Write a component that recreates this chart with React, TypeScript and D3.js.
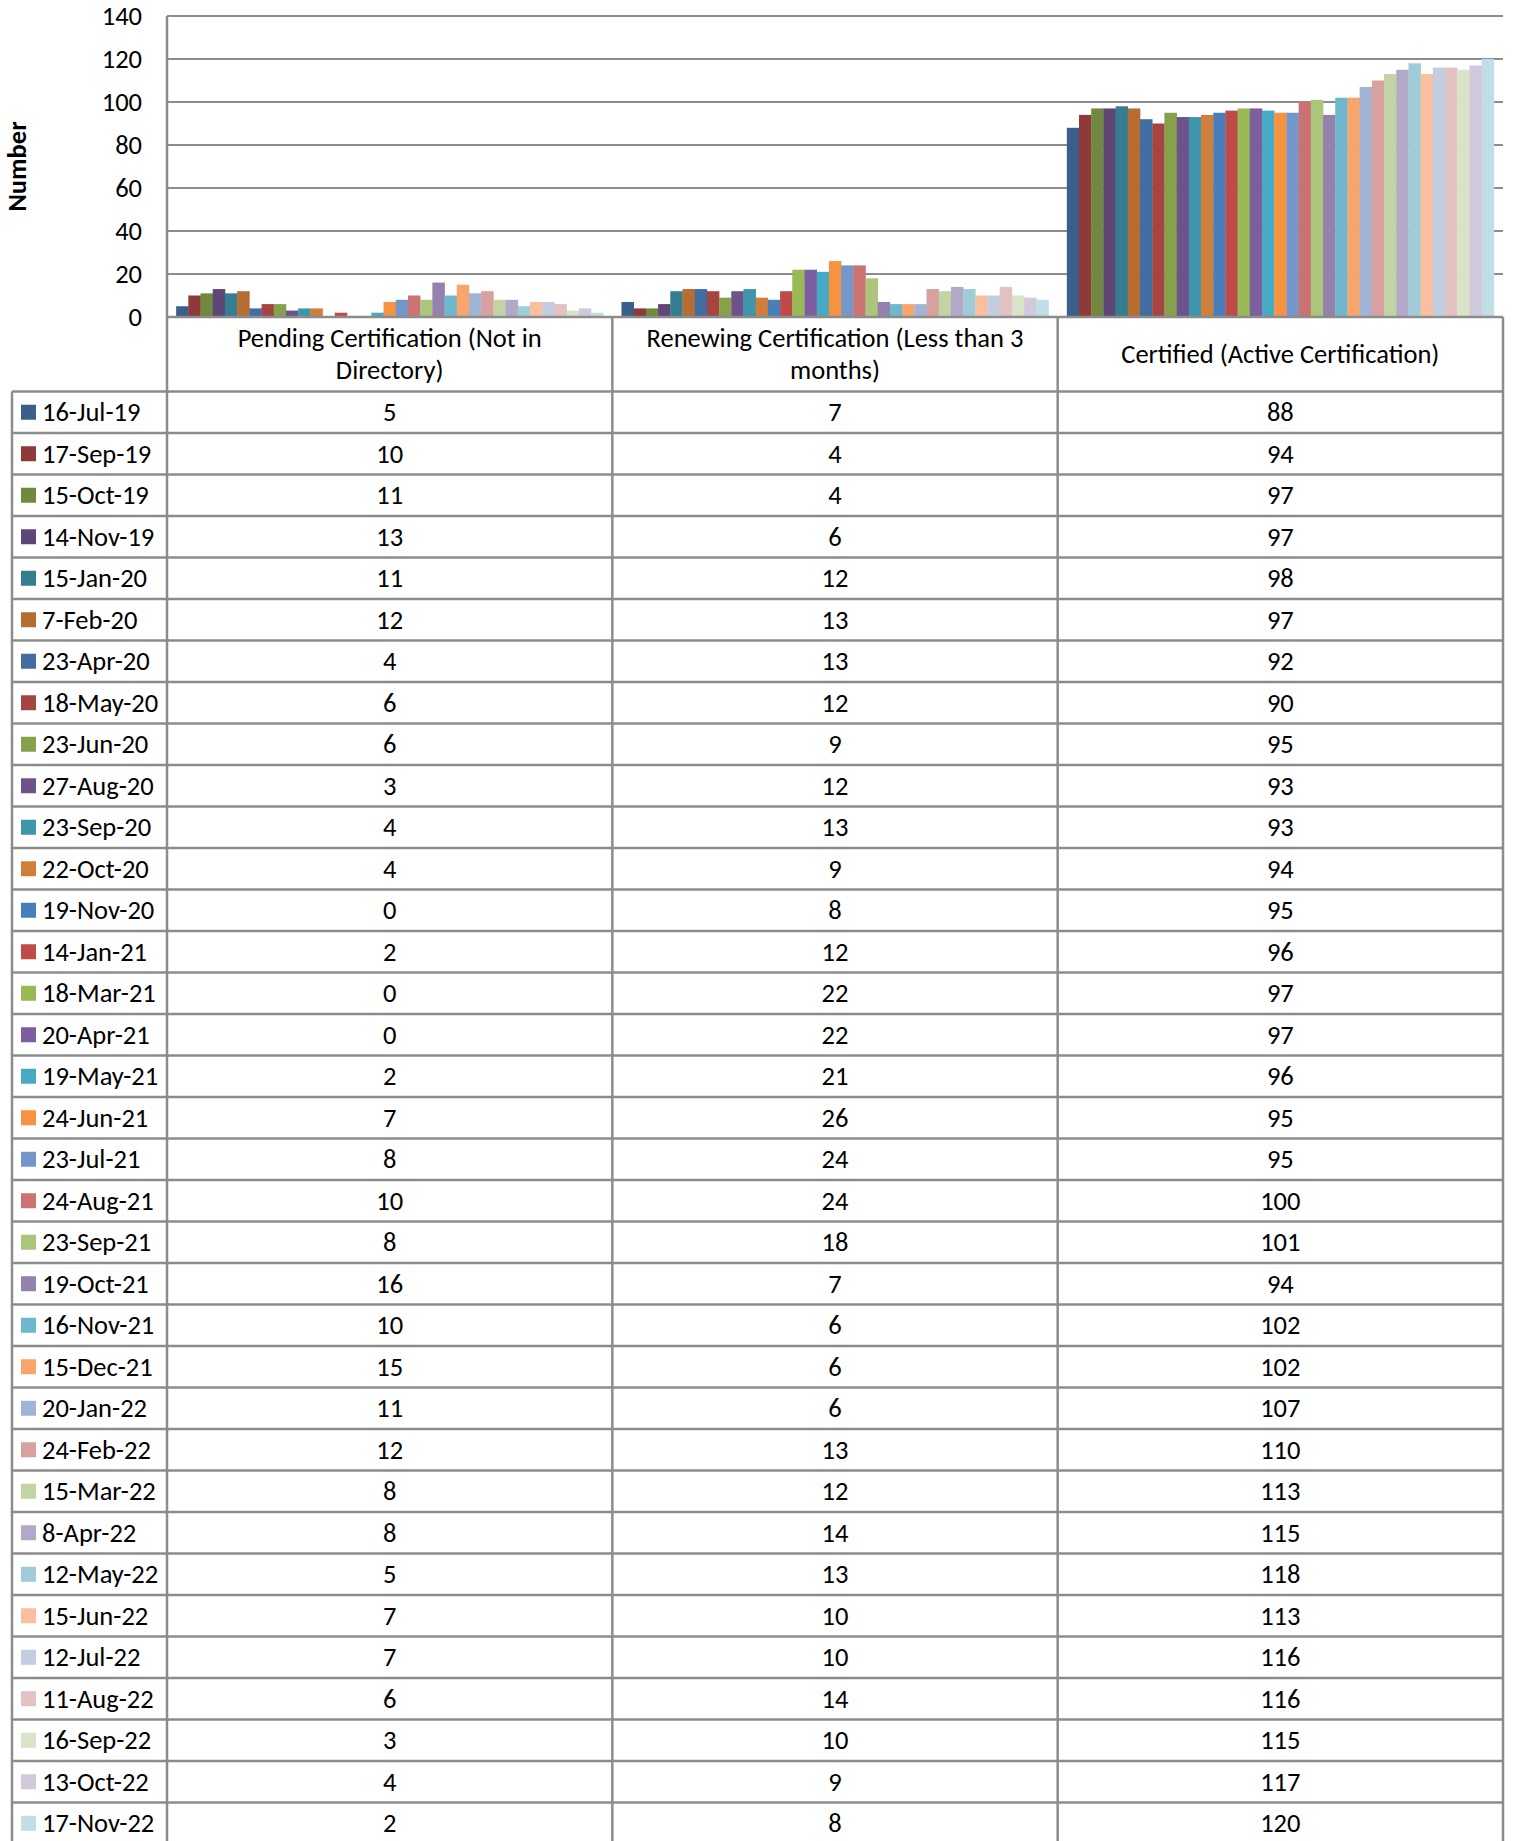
import React from "react";
import * as d3 from "d3";

const categories = [
  ["Pending Certification (Not in", "Directory)"],
  ["Renewing Certification (Less than 3", "months)"],
  ["Certified (Active Certification)"],
];

const dates = [
  "16-Jul-19", "17-Sep-19", "15-Oct-19", "14-Nov-19", "15-Jan-20", "7-Feb-20",
  "23-Apr-20", "18-May-20", "23-Jun-20", "27-Aug-20", "23-Sep-20", "22-Oct-20",
  "19-Nov-20", "14-Jan-21", "18-Mar-21", "20-Apr-21", "19-May-21", "24-Jun-21",
  "23-Jul-21", "24-Aug-21", "23-Sep-21", "19-Oct-21", "16-Nov-21", "15-Dec-21",
  "20-Jan-22", "24-Feb-22", "15-Mar-22", "8-Apr-22", "12-May-22", "15-Jun-22",
  "12-Jul-22", "11-Aug-22", "16-Sep-22", "13-Oct-22", "17-Nov-22",
];

const pending = [5, 10, 11, 13, 11, 12, 4, 6, 6, 3, 4, 4, 0, 2, 0, 0, 2, 7, 8, 10, 8, 16, 10, 15, 11, 12, 8, 8, 5, 7, 7, 6, 3, 4, 2];
const renewing = [7, 4, 4, 6, 12, 13, 13, 12, 9, 12, 13, 9, 8, 12, 22, 22, 21, 26, 24, 24, 18, 7, 6, 6, 6, 13, 12, 14, 13, 10, 10, 14, 10, 9, 8];
const certified = [88, 94, 97, 97, 98, 97, 92, 90, 95, 93, 93, 94, 95, 96, 97, 97, 96, 95, 95, 100, 101, 94, 102, 102, 107, 110, 113, 115, 118, 113, 116, 116, 115, 117, 120];

const colors = [
  "#3A5F8B", "#8E3A38", "#71893F", "#5E4776", "#357D91", "#B66D31",
  "#426DA1", "#A64442", "#87A14B", "#6D5389", "#3E95AC", "#D17E39",
  "#4A7EBB", "#BE4B48", "#98B954", "#7D5FA0", "#46AAC5", "#F69240",
  "#7596C9", "#CB7372", "#ABC57A", "#9581AE", "#6EB7CD", "#F8A56B",
  "#A2B4D4", "#D8A09F", "#C3D4A4", "#B3A8C6", "#A0CCDA", "#FBBE9E",
  "#C2CDE2", "#E4C1C2", "#D9E3C7", "#CFC9DB", "#C1DDE5",
];

const yTicks = [0, 20, 40, 60, 80, 100, 120, 140];

export default function App() {
  const W = 1515;
  const H = 1841;
  const plotLeft = 167;
  const plotRight = 1503;
  const plotTop = 16;
  const plotBottom = 317;
  const tableLeft = 12;
  const headerBottom = 391.5;
  const rowH = 41.5;
  const font = "Carlito, Calibri, Lato, sans-serif";
  const fs = 26.5;
  const grid = "#8C8C8C";

  const series = [pending, renewing, certified];
  const y = d3.scaleLinear().domain([0, 140]).range([plotBottom, plotTop]);
  const x0 = d3.scaleBand<number>().domain([0, 1, 2]).range([plotLeft, plotRight]).padding(0);
  const x1 = d3
    .scaleBand<number>()
    .domain(d3.range(dates.length))
    .range([0, x0.bandwidth()])
    .paddingInner(0)
    .paddingOuter(0.75);

  const colX = [0, 1, 2].map((i) => x0(i)!);
  const tableBottom = headerBottom + rowH * dates.length;

  return (
    <svg
      width={W}
      height={H}
      style={{ position: "absolute", left: 0, top: 0, background: "#fff" }}
      fontFamily={font}
    >
      <rect x={0} y={0} width={W} height={H} fill="#fff" />
      {yTicks.map((t) => (
        <line key={t} x1={plotLeft} x2={plotRight} y1={y(t)} y2={y(t)} stroke={grid} strokeWidth={2} />
      ))}
      {yTicks.map((t) => (
        <text key={"l" + t} x={142} y={y(t)} textAnchor="end" dominantBaseline="central" fontSize={fs} fill="#000">
          {t}
        </text>
      ))}
      <text
        transform={`translate(17,${(plotTop + plotBottom) / 2}) rotate(-90)`}
        textAnchor="middle"
        dominantBaseline="central"
        fontSize={fs}
        fontWeight="bold"
        fill="#000"
      >
        Number
      </text>
      {series.map((vals, ci) =>
        vals.map((v, si) => (
          <rect
            key={ci + "-" + si}
            x={x0(ci)! + x1(si)!}
            y={y(v)}
            width={x1.bandwidth() + 0.3}
            height={plotBottom - y(v)}
            fill={colors[si]}
          />
        ))
      )}
      {categories.map((lines, ci) => {
        const cx = x0(ci)! + x0.bandwidth() / 2;
        const cy = (plotBottom + headerBottom) / 2;
        const lh = 32;
        return (
          <text key={"c" + ci} x={cx} textAnchor="middle" fontSize={fs} fill="#000" dominantBaseline="central">
            {lines.map((ln, li) => (
              <tspan key={li} x={cx} y={cy + (li - (lines.length - 1) / 2) * lh}>
                {ln}
              </tspan>
            ))}
          </text>
        );
      })}
      {dates.map((d, ri) => {
        const top = headerBottom + ri * rowH;
        const cy = top + rowH / 2;
        return (
          <g key={"r" + ri}>
            <rect x={21} y={cy - 7.5} width={15} height={15} fill={colors[ri]} />
            <text x={42} y={cy} dominantBaseline="central" fontSize={fs} fill="#000">
              {d}
            </text>
            {series.map((vals, ci) => (
              <text
                key={ci}
                x={x0(ci)! + x0.bandwidth() / 2}
                y={cy}
                textAnchor="middle"
                dominantBaseline="central"
                fontSize={fs}
                fill="#000"
              >
                {vals[ri]}
              </text>
            ))}
          </g>
        );
      })}
      {d3.range(dates.length + 1).map((i) => (
        <line
          key={"h" + i}
          x1={tableLeft}
          x2={plotRight}
          y1={headerBottom + i * rowH}
          y2={headerBottom + i * rowH}
          stroke={grid}
          strokeWidth={2.5}
        />
      ))}
      <line x1={tableLeft} x2={tableLeft} y1={headerBottom} y2={tableBottom} stroke={grid} strokeWidth={2.5} />
      <line x1={plotLeft} x2={plotLeft} y1={plotTop} y2={tableBottom} stroke={grid} strokeWidth={2.5} />
      {[colX[1], colX[2], plotRight].map((xx, i) => (
        <line key={"v" + i} x1={xx} x2={xx} y1={plotBottom} y2={tableBottom} stroke={grid} strokeWidth={2.5} />
      ))}
      <line x1={plotLeft} x2={plotRight} y1={plotBottom} y2={plotBottom} stroke={grid} strokeWidth={2.5} />
    </svg>
  );
}
